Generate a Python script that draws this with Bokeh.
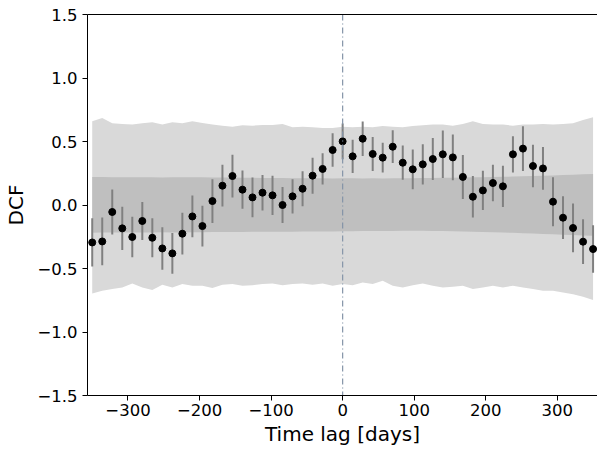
from bokeh.plotting import figure
from bokeh.models import Range1d, FixedTicker, CustomJSTickFormatter, Span, LinearAxis, ColumnDataSource
from bokeh.embed import file_html
from bokeh.resources import INLINE

lags = [-350, -336, -322, -308, -294, -280, -266, -252, -238, -224, -210, -196, -182,
        -168, -154, -140, -126, -112, -98, -84, -70, -56, -42, -28, -14, 0,
        14, 28, 42, 56, 70, 84, 98, 112, 126, 140, 154, 168, 182, 196, 210, 224,
        238, 252, 266, 280, 294, 308, 322, 336, 350]
dcf = [-0.295, -0.287, -0.055, -0.184, -0.252, -0.126, -0.258, -0.342, -0.381, -0.226,
       -0.090, -0.166, 0.031, 0.152, 0.228, 0.121, 0.060, 0.097, 0.076, 0.000,
       0.068, 0.128, 0.231, 0.284, 0.433, 0.501, 0.383, 0.522, 0.402, 0.373,
       0.459, 0.333, 0.281, 0.320, 0.362, 0.399, 0.375, 0.221, 0.065, 0.115,
       0.173, 0.147, 0.399, 0.444, 0.307, 0.288, 0.026, -0.100, -0.181, -0.289, -0.347]
dcf_err = [0.190, 0.188, 0.177, 0.170, 0.160, 0.150, 0.154, 0.167, 0.160, 0.164,
           0.164, 0.160, 0.172, 0.164, 0.168, 0.151, 0.156, 0.140, 0.154, 0.142,
           0.135, 0.138, 0.142, 0.123, 0.131, 0.140, 0.131, 0.136, 0.134, 0.117,
           0.129, 0.135, 0.156, 0.158, 0.165, 0.187, 0.181, 0.173, 0.163, 0.155,
           0.144, 0.163, 0.143, 0.177, 0.168, 0.168, 0.193, 0.168, 0.192, 0.176, 0.187]
outer_hi = [0.659, 0.686, 0.643, 0.638, 0.633, 0.643, 0.651, 0.633, 0.651, 0.643,
            0.659, 0.646, 0.633, 0.625, 0.617, 0.628, 0.625, 0.630, 0.630, 0.638,
            0.612, 0.617, 0.612, 0.606, 0.606, 0.617, 0.612, 0.617, 0.612, 0.622,
            0.617, 0.612, 0.622, 0.627, 0.633, 0.633, 0.625, 0.638, 0.659, 0.638,
            0.633, 0.633, 0.625, 0.633, 0.633, 0.638, 0.633, 0.638, 0.643, 0.670, 0.690]
outer_lo = [-0.696, -0.675, -0.662, -0.649, -0.618, -0.649, -0.670, -0.628, -0.649, -0.622,
            -0.636, -0.636, -0.654, -0.628, -0.622, -0.636, -0.631, -0.622, -0.618, -0.631,
            -0.622, -0.618, -0.628, -0.618, -0.636, -0.622, -0.631, -0.610, -0.622, -0.597,
            -0.636, -0.649, -0.631, -0.618, -0.636, -0.649, -0.644, -0.636, -0.662, -0.649,
            -0.636, -0.649, -0.636, -0.649, -0.662, -0.675, -0.675, -0.689, -0.702, -0.723, -0.749]
inner_hi = [0.220, 0.220, 0.219, 0.218, 0.218, 0.219, 0.218, 0.217, 0.218, 0.218,
            0.219, 0.218, 0.217, 0.216, 0.216, 0.215, 0.214, 0.213, 0.212, 0.212,
            0.211, 0.210, 0.210, 0.210, 0.209, 0.210, 0.210, 0.209, 0.210, 0.209,
            0.210, 0.210, 0.211, 0.212, 0.213, 0.214, 0.215, 0.216, 0.218, 0.219,
            0.220, 0.222, 0.224, 0.226, 0.228, 0.230, 0.233, 0.236, 0.239, 0.242, 0.245]
inner_lo = [-0.218, -0.217, -0.217, -0.216, -0.216, -0.217, -0.216, -0.215, -0.216, -0.216,
            -0.215, -0.214, -0.213, -0.213, -0.212, -0.212, -0.211, -0.211, -0.210, -0.210,
            -0.210, -0.209, -0.209, -0.208, -0.208, -0.207, -0.206, -0.205, -0.205, -0.204,
            -0.204, -0.203, -0.203, -0.203, -0.204, -0.205, -0.207, -0.209, -0.211, -0.213,
            -0.215, -0.217, -0.219, -0.222, -0.225, -0.228, -0.231, -0.234, -0.237, -0.240, -0.243]
x_ticks = [-300, -200, -100, 0, 100, 200, 300]
y_ticks = [-1.5, -1.0, -0.5, 0.0, 0.5, 1.0, 1.5]

err_lo = [d - e for d, e in zip(dcf, dcf_err)]
err_hi = [d + e for d, e in zip(dcf, dcf_err)]
src = ColumnDataSource(dict(lag=lags, dcf=dcf, lo=err_lo, hi=err_hi))

FONT = "DejaVu Sans"
p = figure(width=597, height=450, output_backend="svg", toolbar_location=None,
           x_range=Range1d(-356.6, 356.2), y_range=Range1d(-1.5, 1.5),
           min_border_left=87, min_border_right=0, min_border_top=14, min_border_bottom=55)
p.outline_line_color = None
p.grid.visible = False
p.background_fill_color = "white"
p.border_fill_color = "white"

p.varea(x=lags, y1=outer_lo, y2=outer_hi, fill_color="#d9d9d9")
p.varea(x=lags, y1=inner_lo, y2=inner_hi, fill_color="#bfbfbf")
p.add_layout(Span(location=0, dimension="height", line_color="#8494a8",
                  line_dash="6 3 1 3", line_width=1.2, level="glyph"))
p.segment(x0="lag", y0="lo", x1="lag", y1="hi", source=src, line_color="#808080", line_width=2)
p.scatter(x="lag", y="dcf", source=src, size=7, fill_color="black", line_color="black")

fmt_x = CustomJSTickFormatter(code="return tick < 0 ? '\u2212' + (-tick).toFixed(0) : tick.toFixed(0);")
fmt_y = CustomJSTickFormatter(code="return tick < 0 ? '\u2212' + (-tick).toFixed(1) : tick.toFixed(1);")

for ax, ticks, fmt in ((p.xaxis[0], x_ticks, fmt_x), (p.yaxis[0], y_ticks, fmt_y)):
    ax.ticker = FixedTicker(ticks=ticks)
    ax.formatter = fmt
    ax.major_tick_out = 5
    ax.major_tick_in = 0
    ax.minor_tick_out = 0
    ax.minor_tick_in = 0
    ax.axis_line_color = "black"
    ax.major_tick_line_color = "black"
    ax.major_label_text_font = FONT
    ax.major_label_text_font_size = "16.5px"
    ax.major_label_text_color = "black"
    ax.axis_label_text_font = FONT
    ax.axis_label_text_font_size = "20px"
    ax.axis_label_text_font_style = "normal"
    ax.axis_label_text_color = "black"

p.xaxis.axis_label = "Time lag [days]"
p.yaxis.axis_label = "DCF"
p.xaxis.major_label_standoff = 3
p.yaxis.major_label_standoff = 5
p.xaxis.axis_label_standoff = 3
p.yaxis.axis_label_standoff = 6

top = LinearAxis(major_label_text_font_size="0px", major_label_text_color=None,
                 major_tick_line_color=None, minor_tick_line_color=None,
                 major_tick_out=0, major_tick_in=0, minor_tick_out=0, minor_tick_in=0,
                 axis_line_color="black", axis_line_width=1, major_label_standoff=0)
p.add_layout(top, "above")

open("out.html", "w").write(file_html(p, INLINE))
